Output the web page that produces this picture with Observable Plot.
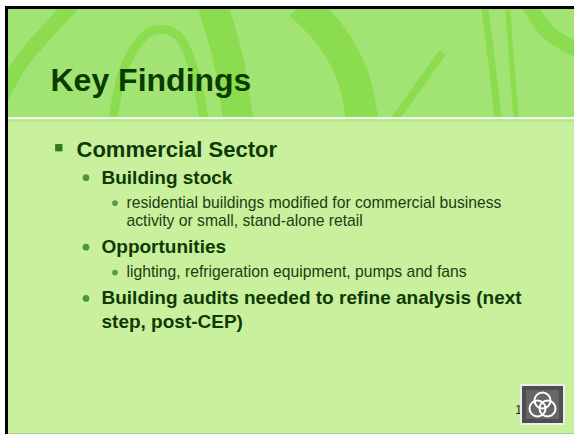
<!DOCTYPE html>
<html><head><meta charset="utf-8">
<script src="https://cdn.jsdelivr.net/npm/d3@7"></script>
<script src="https://cdn.jsdelivr.net/npm/@observablehq/plot@0.6"></script>
<style>html,body{margin:0;padding:0;background:#fff;overflow:hidden}</style>
</head><body><div id="chart"></div>
<script>
// ---- content ----
const title = "Key Findings";
const bulletTexts = [
  "Commercial Sector",
  "Building stock",
  "residential buildings modified for commercial business\nactivity or small, stand-alone retail",
  "Opportunities",
  "lighting, refrigeration equipment, pumps and fans",
  "Building audits needed to refine analysis (next\nstep, post-CEP)"
];
const bulletLevels = [1, 2, 3, 2, 3, 2];
const pageNumber = "13";

// ---- slide layout / styles ----
const W = 574, H = 434;
const FONT = "'Liberation Sans', Arial, Helvetica, sans-serif";
const levelStyle = {
  1: {indent: 76, bulletX: 58.3, size: 22, weight: "bold", gap: 0, lh: 26, symbol: "square", r: 2.9, bdy: -8.8, bcol: "#2f7d14", col: "#0e3a06"},
  2: {indent: 101, bulletX: 85.5, size: 19, weight: "bold", gap: 27, lh: 23.3, symbol: "circle", r: 1.9, bdy: -5.8, bcol: "#4b9a2e", col: "#0e3a06"},
  3: {indent: 126, bulletX: 114.5, size: 15.7, weight: "normal", gap: 24.2, lh: 18.3, symbol: "circle", r: 1.4, bdy: -4.6, bcol: "#5d9a45", col: "#1c3d14"}
};
const firstBaseline = 156;

const lines = [], bullets = [];
let y = firstBaseline;
bulletTexts.forEach((t, i) => {
  const s = levelStyle[bulletLevels[i]];
  if (i > 0) y += s.gap;
  bullets.push({x: s.bulletX, y: y + s.bdy, level: bulletLevels[i]});
  t.split("\n").forEach((ln, j) => {
    if (j > 0) y += s.lh;
    lines.push({x: s.indent, y, text: ln, level: bulletLevels[i]});
  });
});

// header decoration (swirl strokes)
const swirls = [
  {w: 15, pts: [[0,98],[22,60],[55,22],[72,4]]},
  {w: 9,  pts: [[112,122],[126,62],[152,30],[176,34],[194,72],[204,122]]},
  {w: 30, pts: [[212,4],[228,60],[238,122]]},
  {w: 32, pts: [[300,4],[330,35],[352,75],[362,122]]},
  {w: 8,  pts: [[442,52],[415,90],[392,122]]},
  {w: 7,  pts: [[484,4],[491,60],[498,122]]},
  {w: 5,  pts: [[507,4],[511,60],[516,122]]},
  {w: 15, pts: [[528,4],[548,32],[578,50]]}
];
const swirlMarks = swirls.map(s => Plot.line(s.pts, {x: d => d[0], y: d => d[1], stroke: "#8cdc50", strokeWidth: s.w, curve: "catmull-rom", strokeLinecap: "butt"}));

const R = (x1, y1, x2, y2, fill) => Plot.rect([{x1, y1, x2, y2}], {x1: "x1", x2: "x2", y1: "y1", y2: "y2", fill, inset: 0});

const plot = Plot.plot({
  width: W, height: H, margin: 0,
  x: {domain: [0, W], range: [0, W], axis: null},
  y: {domain: [0, H], range: [0, H], axis: null},
  style: {background: "#fff", fontFamily: FONT},
  marks: [
    R(0, 0, W, H, "#a2e474"),
    ...swirlMarks,
    R(0, 117, W, 119.5, "#f4fbee"),
    R(0, 119.5, W, 122, "#b3ea8a"),
    R(0, 122, W, 433, "#c9f19d"),
    R(0, 433, W, H, "#a9c99a"),
    R(0, 0, W, 6, "#ffffff"),
    R(0, 0, 5, H, "#ffffff"),
    R(5, 6, W, 9, "#000000"),
    R(5, 6, 8, H, "#000000"),
    Plot.text([title], {x: () => 50, y: () => 90, text: d => d, textAnchor: "start", lineAnchor: "bottom", fontSize: 32, fontWeight: "bold", fill: "#0a3c00"}),
    Plot.dot(bullets, {x: "x", y: "y", r: d => levelStyle[d.level].r, symbol: d => levelStyle[d.level].symbol, fill: d => levelStyle[d.level].bcol, stroke: "none"}),
    ...[1, 2, 3].map(l => Plot.text(lines.filter(d => d.level === l), {x: "x", y: "y", text: "text", textAnchor: "start", lineAnchor: "bottom", fontSize: levelStyle[l].size, fontWeight: levelStyle[l].weight, fill: levelStyle[l].col})),
    Plot.text([pageNumber], {x: () => 528, y: () => 413, text: d => d, textAnchor: "end", lineAnchor: "bottom", fontSize: 12, fill: "#222"}),
    R(520, 384, 565, 425, "#eeeeee"),
    R(522, 386, 563, 423, "#4e4e4e"),
    R(526, 390, 559, 419, "#666666"),
    Plot.dot([[542, 400], [537, 408], [547, 408]], {x: d => d[0], y: d => d[1], r: 8, fill: "none", stroke: "#ffffff", strokeWidth: 2})
  ]
});
plot.style.display = "block";
document.getElementById("chart").append(plot);
</script>
</body></html>
